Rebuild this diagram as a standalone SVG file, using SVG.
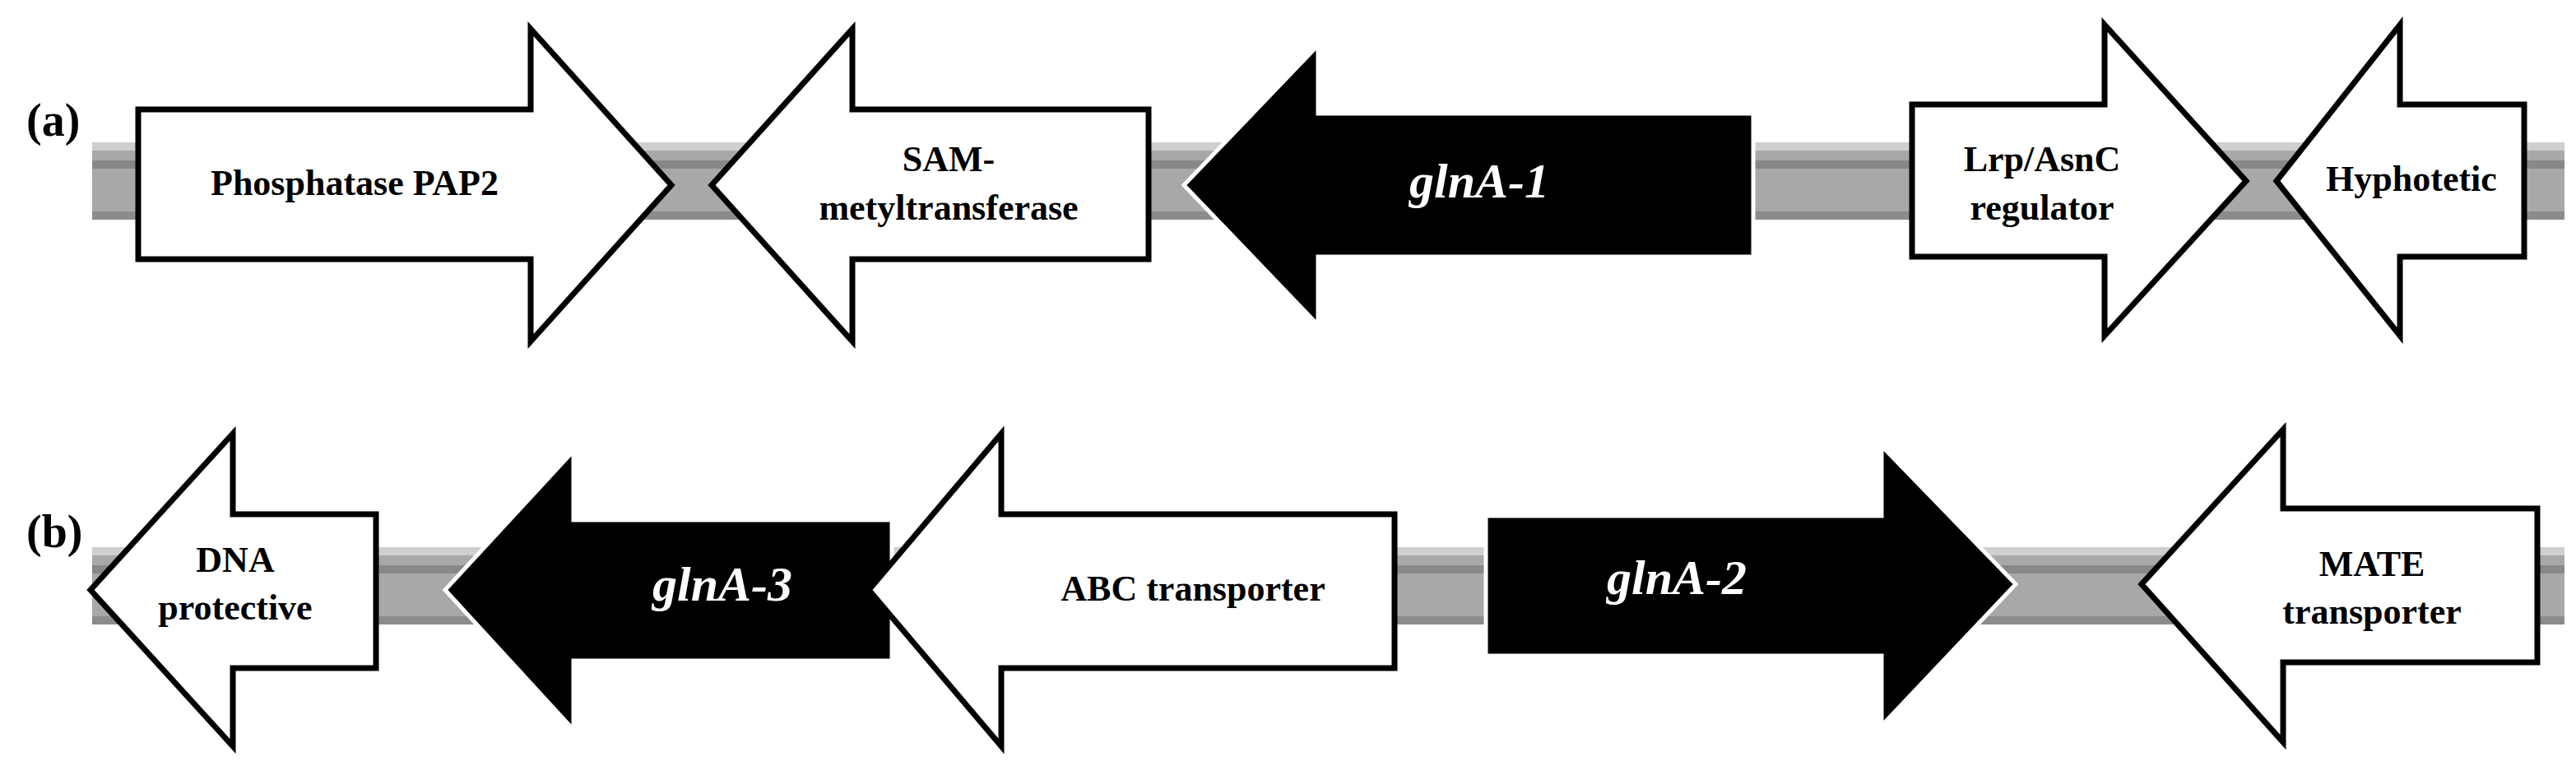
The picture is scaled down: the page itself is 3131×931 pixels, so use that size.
<svg xmlns="http://www.w3.org/2000/svg" width="3131" height="931" viewBox="0 0 3131 931">
<style>
.w{fill:#fff;stroke:#000;stroke-width:7;stroke-linejoin:miter}
.k{fill:#000;stroke:#fff;stroke-width:5}
.t{font-family:"Liberation Serif",serif;font-weight:bold;font-size:44px;text-anchor:middle;fill:#000}
.g{font-family:"Liberation Serif",serif;font-weight:bold;font-style:italic;font-size:60px;text-anchor:middle;fill:#fff}
.lab{font-family:"Liberation Serif",serif;font-weight:bold;font-size:56px;fill:#000}
</style>
<defs>
<g id="bar">
<rect x="0" y="0" width="3005" height="94" fill="#a8a8a8"/>
<rect x="0" y="0" width="3005" height="10" fill="#cfcfcf"/>
<rect x="0" y="22" width="3005" height="10" fill="#888"/>
<rect x="0" y="84" width="3005" height="10" fill="#8c8c8c"/>
</g>
</defs>
<text class="lab" x="32" y="165">(a)</text>
<text class="lab" x="32" y="665">(b)</text>
<g id="connectors">
<use href="#bar" x="112" y="173"/>
<use href="#bar" x="112" y="665"/>
</g>
<g id="phosphatase"><polygon class="w" points="168,133 645,133 645,35 816,225 645,415 645,315 168,315"/><text class="t" x="431" y="237">Phosphatase PAP2</text></g>
<g id="sam"><polygon class="w" points="1396,133 1036,133 1036,35 865,225 1036,415 1036,315 1396,315"/><text class="t" x="1153" y="208">SAM-</text><text class="t" x="1153" y="267">metyltransferase</text></g>
<g id="glnA1"><polygon class="k" points="2131,138 1602,138 1602,55 1439,225 1602,395 1602,312 2131,312"/><text class="g" x="1798" y="240">glnA-1</text></g>
<g id="lrp"><polygon class="w" points="2324,127 2558,127 2558,30 2730,220 2558,408 2558,312 2324,312"/><text class="t" x="2482" y="208">Lrp/AsnC</text><text class="t" x="2482" y="267">regulator</text></g>
<g id="hyp"><polygon class="w" points="3068,127 2917,127 2917,30 2767,220 2917,408 2917,312 3068,312"/><text class="t" x="2931" y="232">Hyphotetic</text></g>
<g id="dna"><polygon class="w" points="457,625 283,625 283,527 110,717 283,907 283,812 457,812"/><text class="t" x="286" y="695">DNA</text><text class="t" x="286" y="753">protective</text></g>
<g id="glnA3"><polygon class="k" points="1084,632 697,632 697,548 541,717 697,887 697,803 1084,803"/><text class="g" x="878" y="730">glnA-3</text></g>
<g id="abc"><polygon class="w" points="1695,625 1217,625 1217,527 1056,717 1217,907 1217,812 1695,812"/><text class="t" x="1450" y="730">ABC transporter</text></g>
<g id="glnA2"><polygon class="k" points="1806,627 2287,627 2287,542 2450,710 2287,882 2287,797 1806,797"/><text class="g" x="2038" y="722">glnA-2</text></g>
<g id="mate"><polygon class="w" points="3084,618 2775,618 2775,522 2603,710 2775,902 2775,805 3084,805"/><text class="t" x="2883" y="700">MATE</text><text class="t" x="2883" y="758">transporter</text></g>
</svg>
